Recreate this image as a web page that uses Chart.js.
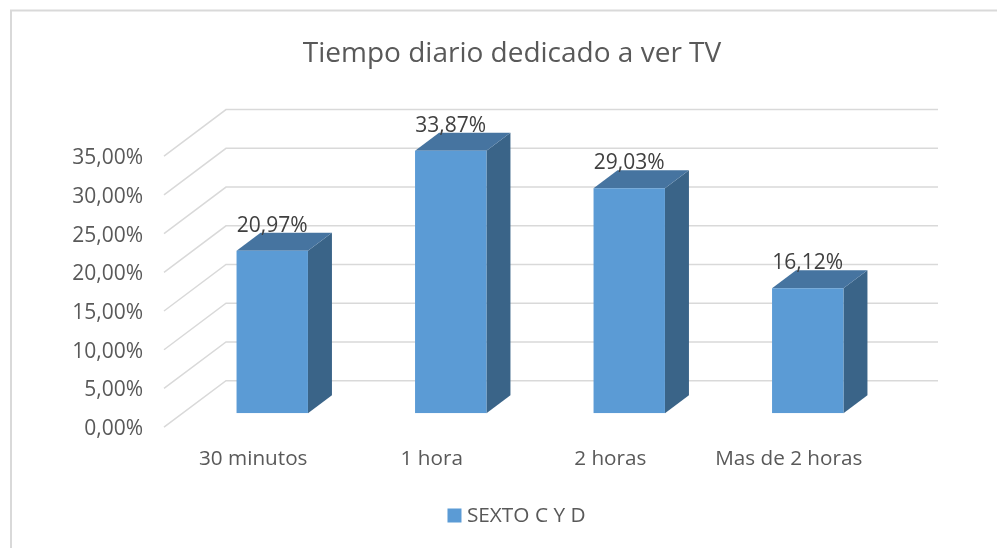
<!DOCTYPE html>
<html><head><meta charset="utf-8">
<style>html,body{margin:0;padding:0;background:#fff}#w{width:997px;height:548px;position:relative}</style>
<script src="https://cdn.jsdelivr.net/npm/chart.js@4"></script></head>
<body><div id="w"><canvas id="c" width="997" height="548"></canvas></div>
<script>
const categories = ['30 minutos', '1 hora', '2 horas', 'Mas de 2 horas'];
const seriesName = 'SEXTO C Y D';
const values = [20.97, 33.87, 29.03, 16.12];
const titleText = 'Tiempo diario dedicado a ver TV';
const FONT = '"Open Sans"';
const fmt = v => v.toFixed(2).replace('.', ',') + '%';

const WALL_DX = 62, WALL_DY = -46.5, GRID_DY = -2;
const BAR_DX = 19, BAR_DY = -16;
const DEPTH_DX = 24, DEPTH_DY = -18;
const BLUE = '#5b9bd5';

const scene = {
  id: 'scene',
  afterLayout(chart) { chart.legend.left += 7; chart.legend.right += 7; },
  beforeDraw(chart) {
    const c = chart.ctx;
    c.save();
    c.strokeStyle = '#d9d9d9'; c.lineWidth = 2;
    c.beginPath(); c.moveTo(11, 548); c.lineTo(11, 10.5); c.lineTo(997, 10.5); c.stroke();
    c.restore();
  },
  beforeDatasetsDraw(chart) {
    const c = chart.ctx, y = chart.scales.y, a = chart.chartArea;
    c.save();
    c.strokeStyle = '#d9d9d9'; c.lineWidth = 1.5;
    y.ticks.forEach(t => {
      const py = y.getPixelForValue(t.value) + GRID_DY;
      c.beginPath();
      c.moveTo(a.left, py);
      c.lineTo(a.left + WALL_DX, py + WALL_DY);
      c.lineTo(a.right + 60, py + WALL_DY);
      c.stroke();
    });
    c.restore();
  },
  beforeDatasetDraw(chart) {
    const c = chart.ctx;
    c.save();
    c.translate(BAR_DX, BAR_DY);
    chart.getDatasetMeta(0).data.forEach(b => {
      const p = b.getProps(['x', 'y', 'base', 'width'], true);
      const l = p.x - p.width / 2, r = p.x + p.width / 2;
      c.fillStyle = '#3a6488';
      c.beginPath();
      c.moveTo(r, p.y); c.lineTo(r + DEPTH_DX, p.y + DEPTH_DY);
      c.lineTo(r + DEPTH_DX, p.base + DEPTH_DY); c.lineTo(r, p.base);
      c.closePath(); c.fill();
      c.fillStyle = '#4674a0';
      c.beginPath();
      c.moveTo(l, p.y); c.lineTo(l + DEPTH_DX, p.y + DEPTH_DY);
      c.lineTo(r + DEPTH_DX, p.y + DEPTH_DY); c.lineTo(r, p.y);
      c.closePath(); c.fill();
    });
  },
  afterDatasetDraw(chart) { chart.ctx.restore(); },
  afterDatasetsDraw(chart) {
    const c = chart.ctx;
    c.save();
    c.fillStyle = '#404040';
    c.font = '21px ' + FONT;
    c.textAlign = 'center'; c.textBaseline = 'middle';
    chart.getDatasetMeta(0).data.forEach((b, i) => {
      c.fillText(fmt(values[i]), b.x + BAR_DX, b.y + BAR_DY - 25);
    });
    c.restore();
  }
};

new Chart(document.getElementById('c'), {
  type: 'bar',
  data: { labels: categories, datasets: [{ label: seriesName, data: values,
    backgroundColor: BLUE, barPercentage: 0.4, categoryPercentage: 1 }] },
  plugins: [scene],
  options: {
    responsive: false, animation: false,
    layout: { padding: { left: 27, right: 0, top: 0, bottom: 12 } },
    plugins: {
      tooltip: { enabled: false },
      title: { display: true, text: titleText, color: '#595959',
        font: { family: FONT, size: 28, weight: 'normal', lineHeight: 1.2 },
        padding: { top: 37.5, bottom: 87 } },
      legend: { position: 'bottom',
        labels: { color: '#595959', font: { family: FONT, size: 20.8 }, boxWidth: 4, boxHeight: 4, padding: 16,
          generateLabels: () => [{ text: seriesName, fillStyle: BLUE, strokeStyle: BLUE, lineWidth: 10, lineJoin: 'miter', datasetIndex: 0, fontColor: '#595959' }] } }
    },
    scales: {
      x: { grid: { display: false }, border: { display: false },
        ticks: { color: '#595959', font: { family: FONT, size: 20.7 }, padding: 9, maxRotation: 0, autoSkip: false },
        afterFit(s) { s.height = 60; } },
      y: { min: 0, max: 35, grid: { display: false }, border: { display: false },
        ticks: { stepSize: 5, color: '#595959', font: { family: FONT, size: 21 }, padding: 13, callback: v => fmt(v) },
        afterFit(s) { s.width = 137; } },
      r2: { position: 'right', min: 0, max: 1, display: true, grid: { display: false }, border: { display: false },
        ticks: { display: false }, afterFit(s) { s.width = 119; } }
    }
  }
});
</script></body></html>
